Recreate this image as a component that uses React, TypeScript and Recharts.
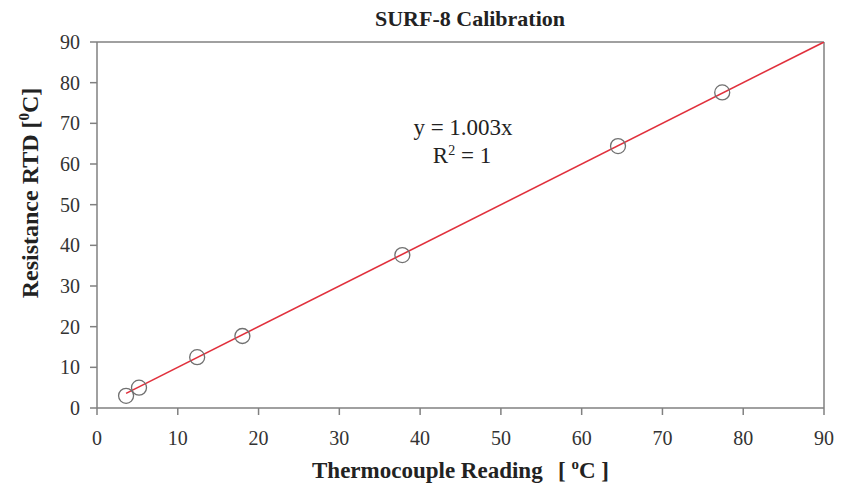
// SURF-8 Kalibrierung: RTD vs. Thermoelement (Recharts Scatter + Trendlinie)
import { ComposedChart, Scatter, XAxis, YAxis, ReferenceLine, Line } from 'recharts';

const thermocouple = [3.6, 5.2, 12.4, 18.0, 37.8, 64.5, 77.4];
const rtd = [3.0, 5.0, 12.5, 17.7, 37.6, 64.4, 77.6];
const trendX = [3.6, 90];
const trendY = [3.6, 90];
const ticks = [0, 10, 20, 30, 40, 50, 60, 70, 80, 90];

const points = thermocouple.map((x, i) => ({ x, y: rtd[i] }));
const trend = trendX.map((x, i) => ({ x, t: trendY[i] }));

const FONT = '"Liberation Serif", "Times New Roman", serif';
const INK = '#222';

// Achsenbeschriftung in Serifenschrift
function XTick({ x, y, payload }: any) {
  return (
    <text x={x} y={y + 26} textAnchor="middle" fontFamily={FONT} fontSize={20} fill="#333">
      {payload.value}
    </text>
  );
}

function YTick({ x, y, payload }: any) {
  return (
    <text x={x - 2} y={y + 7} textAnchor="end" fontFamily={FONT} fontSize={20} fill="#333">
      {payload.value}
    </text>
  );
}

export default function App() {
  return (
    <div style={{ position: 'absolute', left: 0, top: 0, width: 843, height: 490, background: '#fff' }}>
      <ComposedChart width={843} height={490} margin={{ top: 42, right: 19, left: 0, bottom: 0 }}>
        <XAxis
          type="number"
          dataKey="x"
          domain={[0, 90]}
          ticks={ticks}
          height={82}
          tickSize={7}
          tickMargin={4}
          stroke="#808080"
          strokeWidth={1.5}
          tick={<XTick />}
          allowDataOverflow
        />
        <YAxis
          type="number"
          dataKey="y"
          domain={[0, 90]}
          ticks={ticks}
          width={97}
          tickSize={7}
          tickMargin={8}
          stroke="#808080"
          strokeWidth={1.5}
          tick={<YTick />}
          allowDataOverflow
        />
        <ReferenceLine y={90} stroke="#808080" strokeWidth={1.5} />
        <ReferenceLine x={90} stroke="#808080" strokeWidth={1.5} />
        <Line
          data={trend}
          dataKey="t"
          type="linear"
          stroke="#e0303c"
          strokeWidth={1.6}
          dot={false}
          activeDot={false}
          isAnimationActive={false}
        />
        <Scatter
          data={points}
          dataKey="y"
          fill="none"
          isAnimationActive={false}
          shape={(p: any) => (
            <circle cx={p.cx} cy={p.cy} r={7.5} fill="none" stroke="#707070" strokeWidth={1.3} />
          )}
        />
      </ComposedChart>
      <svg width={843} height={490} style={{ position: 'absolute', left: 0, top: 0, pointerEvents: 'none' }}>
        <text x={470} y={26} textAnchor="middle" fontFamily={FONT} fontWeight="bold" fontSize={22} fill={INK}>
          SURF-8 Calibration
        </text>
        <text x={463} y={135} textAnchor="middle" fontFamily={FONT} fontSize={23} fill={INK}>
          y = 1.003x
        </text>
        <text x={462} y={163} textAnchor="middle" fontFamily={FONT} fontSize={23} fill={INK}>
          R<tspan dy={-8} fontSize={14}>2</tspan><tspan dy={8}> = 1</tspan>
        </text>
        <text x={312} y={478} fontFamily={FONT} fontWeight="bold" fontSize={23} fill={INK}>
          Thermocouple Reading
        </text>
        <text x={558} y={478} fontFamily={FONT} fontWeight="bold" fontSize={23} fill={INK}>
          [ <tspan dy={-9} fontSize={15}>o</tspan><tspan dy={9}>C ]</tspan>
        </text>
        <text
          x={38}
          y={193}
          textAnchor="middle"
          transform="rotate(-90 38 193)"
          fontFamily={FONT}
          fontWeight="bold"
          fontSize={24}
          fill={INK}
        >
          Resistance RTD [<tspan dy={-9} fontSize={15}>0</tspan><tspan dy={9}>C]</tspan>
        </text>
      </svg>
    </div>
  );
}
